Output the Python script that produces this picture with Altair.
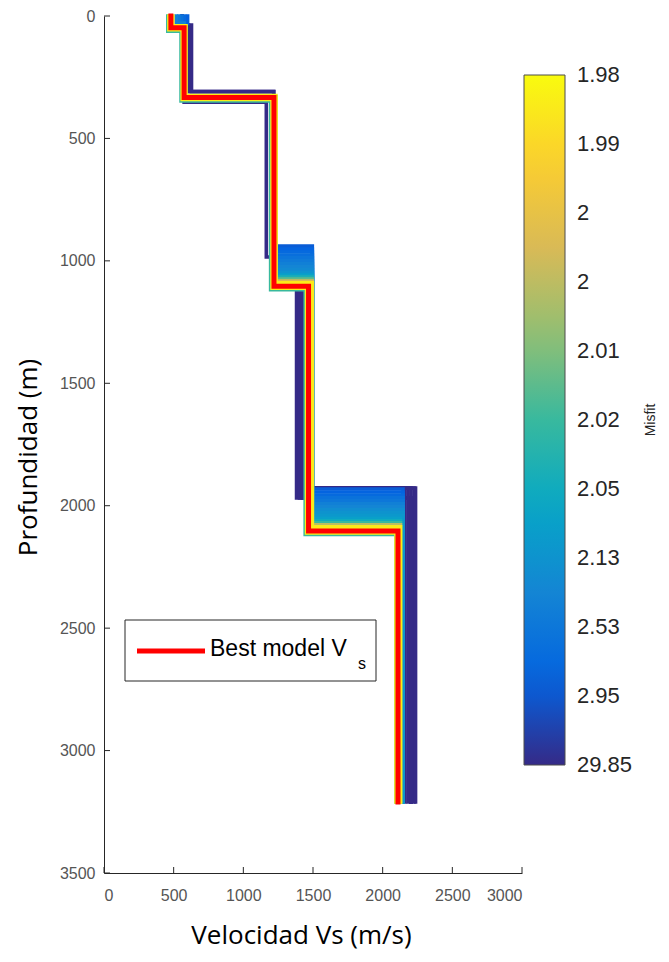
import json
import altair as alt
import pandas as pd

# ---------------- axis ticks ----------------
vs_ticks = [0, 500, 1000, 1500, 2000, 2500, 3000]
depth_ticks = [0, 500, 1000, 1500, 2000, 2500, 3000, 3500]

# ---------------- colour bar (parula), rank 0 = worst ... 10 = best ----------------
misfit_labels = ["29.85", "2.95", "2.53", "2.13", "2.05", "2.02", "2.01", "2", "2", "1.99", "1.98"]
colorbar_label_pos = [0.001, 1, 2, 3, 4, 5, 6, 7, 8, 9, 9.999]
parula_stops = [0, 1.25, 2.5, 3.75, 5, 6.25, 7.5, 8.75, 10]
parula_colors = ["#352a87", "#0363e1", "#1485d4", "#06a7c6", "#38b99e",
                 "#92bf73", "#d9ba56", "#fcce2e", "#f9fb0e"]

# ---------------- best model ----------------
best_vs = [480, 575, 1220, 1468, 2110]
best_iface = [48, 333, 1104, 2103]
bottom_depth = 3210

# ---------------- ensemble: worst models (misfit 29.85) ----------------
worst_vs = [
    [560, 606, 1218, 1382, 2203],
    [560, 628, 1218, 1403, 2203],
    [480, 575, 1165, 1425, 2203],
    [480, 575, 1220, 1468, 2160],
    [480, 575, 1220, 1468, 2182],
    [480, 575, 1220, 1468, 2203],
    [480, 575, 1220, 1468, 2225],
    [480, 575, 1220, 1468, 2236],
]
worst_iface = [
    [37, 309, 1110, 1968],
    [37, 309, 1110, 1968],
    [48, 352, 984, 1968],
    [48, 333, 1104, 1928],
    [48, 333, 1104, 1928],
    [48, 333, 1104, 1928],
    [48, 333, 1104, 1928],
    [48, 333, 1104, 1928],
]

# ---------------- ensemble: shallow patch (first layer velocity) ----------------
patch_vs1 = [518, 538, 558, 578, 600]
patch_rank = [2.4, 2.1, 1.8, 1.5, 1.2]
patch_iface1 = [30, 30, 30, 30, 30]

# ---------------- ensemble: layer 3/4 interface spread ----------------
blockD_iface3 = [940, 952, 964, 976, 988, 1000, 1012, 1024, 1036, 1048, 1058, 1066, 1074, 1082, 1090]
blockD_rank = [1.1, 1.3, 1.5, 1.7, 1.9, 2.1, 2.3, 2.5, 2.7, 3.0, 3.5, 4.3, 5.5, 7.5, 9.5]
blockD_vs3 = [1232] * 15
blockD_vs4 = [1495] * 15

# ---------------- ensemble: layer 4/5 interface spread ----------------
blockE_iface4 = [1932, 1944, 1956, 1968, 1980, 1992, 2004, 2016, 2028, 2040, 2052, 2062, 2070, 2078, 2086]
blockE_rank = [1.1, 1.3, 1.5, 1.8, 2.0, 2.3, 2.5, 2.8, 3.0, 3.2, 3.5, 4.0, 5.0, 7.0, 9.5]
blockE_vs4 = [1490] * 15
blockE_vs5 = [2146, 2146, 2146, 2146, 2146, 2146, 2146, 2146, 2146, 2146,
              2128, 2128, 2128, 2128, 2128]

# ---------------- ensemble: near-best models ----------------
near_vs = [
    [494, 589, 1234, 1482, 2124],
    [466, 561, 1206, 1454, 2096],
    [458, 553, 1196, 1444, 2096],
]
near_iface = [
    [40, 325, 1096, 2095],
    [56, 341, 1112, 2111],
    [62, 347, 1118, 2117],
]
near_rank = [9.6, 9.6, 5.0]

# ---------------- build tables ----------------
models = []
for vs, itf in zip(worst_vs, worst_iface):
    models.append((0.0, vs, itf))
for v1, r, i1 in zip(patch_vs1, patch_rank, patch_iface1):
    models.append((r, [v1] + best_vs[1:], [i1] + best_iface[1:]))
for d, r, v3, v4 in zip(blockD_iface3, blockD_rank, blockD_vs3, blockD_vs4):
    models.append((r, best_vs[:2] + [v3, v4, best_vs[4]], best_iface[:2] + [d, best_iface[3]]))
for d, r, v4, v5 in zip(blockE_iface4, blockE_rank, blockE_vs4, blockE_vs5):
    models.append((r, best_vs[:3] + [v4, v5], best_iface[:3] + [d]))
for vs, itf, r in zip(near_vs, near_iface, near_rank):
    models.append((r, vs, itf))

models.sort(key=lambda m: m[0])


def profile_rows(vs, itf, extra):
    depths = [0] + list(itf) + [bottom_depth]
    out = []
    k = 0
    for i, v in enumerate(vs):
        for d in (depths[i], depths[i + 1]):
            row = dict(extra)
            row.update(idx=k, Vs=v, depth=d)
            out.append(row)
            k += 1
    return out


ens_rows = []
for mid, (r, vs, itf) in enumerate(models):
    ens_rows += profile_rows(vs, itf, {"model": mid, "rank": r})
ens_df = pd.DataFrame(ens_rows)
best_df = pd.DataFrame(profile_rows(best_vs, best_iface, {}))

# ---------------- layout (plot area origin at page 104,16) ----------------
W, H = 418, 857
CB_X, CB_Y, CB_LEN, CB_W = 420, 59, 690, 41

x_scale = alt.Scale(domain=[0, 3000], nice=False, zero=False)
y_scale = alt.Scale(domain=[0, 3500], reverse=True, nice=False, zero=False)

title_font = "Open Sans"
x_axis = alt.Axis(values=vs_ticks, format="d", title="Velocidad Vs (m/s)", grid=False, ticks=False, tickSize=0,
                  labelPadding=14, labelFont="Liberation Sans", labelFontSize=16, labelColor="#555555",
                  domainColor="#262626", domainWidth=1,
                  titleFont=title_font, titleFontSize=26, titleFontWeight="normal", titleColor="#000000",
                  titleX=197, titleY=70, titleAlign="center", titleBaseline="alphabetic")
y_axis = alt.Axis(values=depth_ticks, format="d", title="Profundidad (m)", grid=False, ticks=False, tickSize=0,
                  labelPadding=9, labelFont="Liberation Sans", labelFontSize=16, labelColor="#555555",
                  domainColor="#262626", domainWidth=1,
                  titleFont=title_font, titleFontSize=26, titleFontWeight="normal", titleColor="#000000",
                  titleX=-68, titleY=441, titleAngle=270, titleAlign="center", titleBaseline="alphabetic")

label_expr = json.dumps(misfit_labels) + "[round(datum.value)]"
legend = alt.Legend(orient="none", legendX=CB_X, legendY=CB_Y, direction="vertical", title=None,
                    gradientLength=CB_LEN, gradientThickness=CB_W, values=colorbar_label_pos,
                    labelExpr=label_expr, labelFont="Liberation Sans", labelFontSize=22,
                    labelColor="#262626", labelOffset=12,
                    gradientStrokeColor="#4d4d4d",
                    gradientStrokeWidth=1, labelOverlap=False, padding=0)

ens = alt.Chart(ens_df).mark_line(strokeWidth=3.6, strokeJoin="miter", strokeCap="square").encode(
    x=alt.X("Vs:Q", scale=x_scale, axis=x_axis),
    y=alt.Y("depth:Q", scale=y_scale, axis=y_axis),
    color=alt.Color("rank:Q", scale=alt.Scale(domain=parula_stops, range=parula_colors, interpolate="rgb"),
                    legend=legend),
    detail="model:N",
    order="idx:Q",
)

best = alt.Chart(best_df).mark_line(color="#ff0000", strokeWidth=5, strokeJoin="miter",
                                    strokeCap="square").encode(
    x=alt.X("Vs:Q", scale=x_scale),
    y=alt.Y("depth:Q", scale=y_scale),
    order="idx:Q",
)

ytick = alt.Chart(pd.DataFrame({"depth": depth_ticks})).mark_rule(color="#262626", strokeWidth=1).encode(
    y=alt.Y("depth:Q", scale=y_scale), x=alt.value(0), x2=alt.value(6))
xtick = alt.Chart(pd.DataFrame({"Vs": vs_ticks})).mark_rule(color="#262626", strokeWidth=1).encode(
    x=alt.X("Vs:Q", scale=x_scale), y=alt.value(H), y2=alt.value(H - 6))

one = pd.DataFrame({"a": [0]})
box = alt.Chart(one).mark_rect(fill="white", stroke="#262626", strokeWidth=1).encode(
    x=alt.value(21), x2=alt.value(272), y=alt.value(604), y2=alt.value(665))
leg_line = alt.Chart(one).mark_rule(color="#ff0000", strokeWidth=5).encode(
    x=alt.value(33), x2=alt.value(101), y=alt.value(635))
leg_text = alt.Chart(one).mark_text(text="Best model V", align="left", baseline="alphabetic",
                                    font="Liberation Sans", fontSize=23, color="#000000").encode(
    x=alt.value(106), y=alt.value(640))
leg_sub = alt.Chart(one).mark_text(text="s", align="left", baseline="alphabetic",
                                   font="Liberation Sans", fontSize=16, color="#000000").encode(
    x=alt.value(254), y=alt.value(653))
misfit_title = alt.Chart(one).mark_text(text="Misfit", angle=270, align="center", baseline="middle",
                                        font="Liberation Sans", fontSize=14, color="#262626").encode(
    x=alt.value(547), y=alt.value(404))

chart = alt.layer(ens, best, ytick, xtick, box, leg_line, leg_text, leg_sub, misfit_title).properties(
    width=W, height=H,
    padding={"left": 96, "top": 8, "right": 138, "bottom": 79},
    autosize=alt.AutoSizeParams(type="none"),
).configure_view(stroke=None)

chart.save("out.html", embed_options={"renderer": "svg", "actions": False})
